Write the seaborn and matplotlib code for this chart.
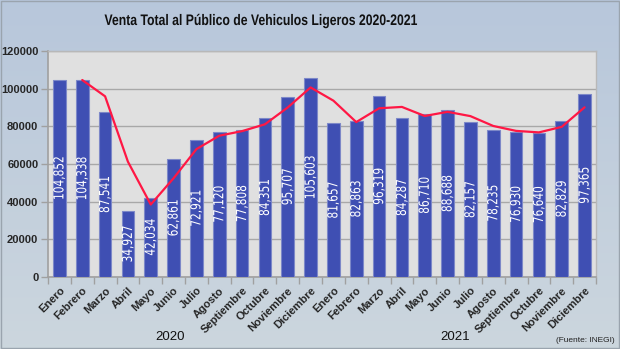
import numpy as np
import pandas as pd
import matplotlib
matplotlib.use("Agg")
import matplotlib.pyplot as plt
import seaborn as sns
from matplotlib.patheffects import AbstractPathEffect
from matplotlib.transforms import Affine2D
from matplotlib.ticker import FixedLocator

months = ["Enero", "Febrero", "Marzo", "Abril", "Mayo", "Junio", "Julio",
          "Agosto", "Septiembre", "Octubre", "Noviembre", "Diciembre"]
years = ["2020", "2021"]
ventas_2020 = [104852, 104338, 87541, 34927, 42034, 62861, 72921,
               77120, 77808, 84351, 95707, 105603]
ventas_2021 = [81657, 82863, 96319, 84287, 86710, 88688, 82157,
               78235, 76930, 76640, 82829, 97365]

ventas = ventas_2020 + ventas_2021
labels = months + months
df = pd.DataFrame({"pos": np.arange(len(ventas)), "ventas": ventas})
# two-month moving average
df["promedio"] = df["ventas"].rolling(2).mean()

sns.set_theme(style="white")
plt.rcParams["font.family"] = ["Liberation Sans", "DejaVu Sans"]


class Squeeze(AbstractPathEffect):
    """Condense glyphs around their own centre (narrow type look)."""

    def __init__(self, sx=1.0, sy=1.0):
        super().__init__()
        self.sx, self.sy = sx, sy

    def draw_path(self, renderer, gc, tpath, affine, rgbFace=None):
        ext = tpath.get_extents(affine)
        cx, cy = (ext.x0 + ext.x1) / 2, (ext.y0 + ext.y1) / 2
        squeeze = (Affine2D().translate(-cx, -cy)
                   .scale(self.sx, self.sy).translate(cx, cy))
        renderer.draw_path(gc, tpath, affine + squeeze, rgbFace)


fig = plt.figure(figsize=(6.2, 3.49), dpi=100)

# gradient background
bg = fig.add_axes([0, 0, 1, 1], zorder=-10)
grad = np.linspace(0, 1, 256).reshape(-1, 1)
top = np.array([0.72, 0.78, 0.86])
bot = np.array([0.80, 0.84, 0.87])
img = top[None, None, :] * (1 - grad[..., None]) + bot[None, None, :] * grad[..., None]
bg.imshow(img, aspect="auto", extent=[0, 1, 0, 1])
bg.set_axis_off()
bg.add_patch(plt.Rectangle((0.001, 0.002), 0.997, 0.995, fill=False,
                           edgecolor="#9aa4ae", linewidth=1,
                           transform=bg.transAxes))

ax = fig.add_axes([48 / 620, 1 - 277 / 349, 548 / 620, 226 / 349])
ax.set_facecolor("#e0e0e0")

sns.barplot(data=df, x="pos", y="ventas", ax=ax, color="#3f4fb3",
            saturation=1, width=0.55, edgecolor="#7d88c8", linewidth=0.8,
            zorder=3)
sns.lineplot(data=df, x="pos", y="promedio", ax=ax, color="#ff1744",
             linewidth=1.6, zorder=4)

for x, v in zip(df["pos"], df["ventas"]):
    ax.text(x, v / 2, f"{v:,}", rotation=90, ha="center", va="center",
            color="white", zorder=5, fontsize=10, family="DejaVu Sans",
            path_effects=[Squeeze(1.0, 0.76)])

ax.set_ylim(0, 120000)
ax.set_xlim(-0.5, len(ventas) - 0.5)
ax.set_yticks(np.arange(0, 120001, 20000))
ax.set_yticklabels([f"{int(t)}" for t in np.arange(0, 120001, 20000)],
                   fontsize=8, fontweight="bold")
ax.yaxis.grid(True, color="#a8a8a8", linewidth=1, zorder=0)
ax.set_axisbelow(True)

ax.set_xticks(df["pos"])
ax.set_xticklabels(labels, rotation=45, ha="right", rotation_mode="anchor",
                   fontsize=8, fontweight="bold")
ax.xaxis.set_minor_locator(FixedLocator(np.arange(-0.5, len(ventas), 1)))
ax.tick_params(axis="x", which="major", length=0, pad=6)
ax.tick_params(axis="x", which="minor", length=5, color="#a0a0a0", width=1,
               direction="out", bottom=True)
ax.tick_params(axis="y", length=5, color="#a0a0a0", width=1, left=True,
               pad=2)
ax.set_xlabel("")
ax.set_ylabel("")
for side in ["left", "bottom"]:
    ax.spines[side].set_color("#a0a0a0")
    ax.spines[side].set_linewidth(1.2)
for side in ["top", "right"]:
    ax.spines[side].set_color("#b8b8b8")
    ax.spines[side].set_linewidth(1)

fig.text(261.5 / 620, 1 - 21 / 349,
         "Venta Total al Público de Vehiculos Ligeros 2020-2021",
         ha="center", va="center", fontsize=11, fontweight="bold",
         color="#111111", path_effects=[Squeeze(0.80, 1.0)])
fig.text(170 / 620, 1 - 337 / 349, years[0], ha="center", va="center",
         fontsize=9.5, color="#111111")
fig.text(455 / 620, 1 - 337 / 349, years[1], ha="center", va="center",
         fontsize=9.5, color="#111111")
fig.text(615 / 620, 1 - 341 / 349, "(Fuente: INEGI)", ha="right", va="center",
         fontsize=6, color="#222222")

fig.savefig("out.png", dpi=100)
